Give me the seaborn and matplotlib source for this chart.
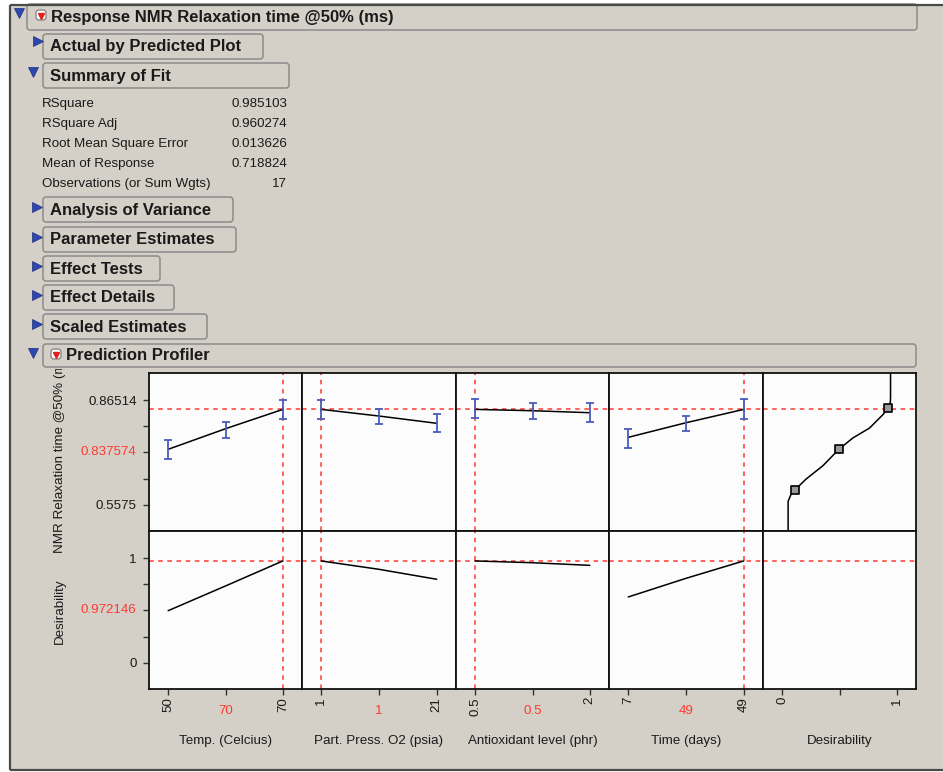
import matplotlib
matplotlib.use("Agg")
import matplotlib.pyplot as plt
from matplotlib.patches import FancyBboxPatch, Rectangle
from matplotlib.transforms import Bbox
import seaborn as sns

W, H = 943, 772

# ---------------------------------------------------------------
# Values
# ---------------------------------------------------------------
report_title = "Response NMR Relaxation time @50% (ms)"
fit_labels = ["RSquare", "RSquare Adj", "Root Mean Square Error",
              "Mean of Response", "Observations (or Sum Wgts)"]
fit_values = ["0.985103", "0.960274", "0.013626", "0.718824", "17"]

closed_sections = ["Analysis of Variance", "Parameter Estimates", "Effect Tests",
                   "Effect Details", "Scaled Estimates"]

factor_names = ["Temp. (Celcius)", "Part. Press. O2 (psia)",
                "Antioxidant level (phr)", "Time (days)"]
factor_levels = [[50, 60, 70], [1, 11, 21], [0.5, 1.25, 2], [7, 28, 49]]
factor_ticklabels = [["50", "", "70"], ["1", "", "21"], ["0.5", "", "2"], ["7", "", "49"]]
factor_current = [70, 1, 0.5, 49]
factor_current_label = ["70", "1", "0.5", "49"]

# predicted NMR relaxation time and its confidence bars at each level
nmr_pred = [[0.7203, 0.7808, 0.8376],
            [0.8376, 0.8181, 0.7967],
            [0.8376, 0.8337, 0.8278],
            [0.7555, 0.7984, 0.8376]]
nmr_lo = [[0.6918, 0.7535, 0.8102],
          [0.8093, 0.7946, 0.7702],
          [0.8113, 0.8102, 0.7996],
          [0.7250, 0.7740, 0.8102]]
nmr_hi = [[0.7476, 0.8005, 0.8651],
          [0.8651, 0.8396, 0.8249],
          [0.8672, 0.8554, 0.8554],
          [0.7799, 0.8181, 0.8672]]
# desirability trace at each level
desir = [[0.497, 0.733, 0.972],
         [0.972, 0.892, 0.797],
         [0.972, 0.955, 0.930],
         [0.628, 0.806, 0.972]]

# desirability function (x = desirability, y = response)
des_d = [0.052, 0.052, 0.076, 0.108, 0.209, 0.355, 0.497, 0.616, 0.762, 0.878,
         0.924, 0.942, 0.945, 0.945]
des_nmr = [0.4802, 0.5675, 0.5869, 0.5998, 0.633, 0.672, 0.7211, 0.7535, 0.7828,
           0.8219, 0.8416, 0.8563, 0.870, 0.9445]
knot_d = [0.108, 0.497, 0.924]
knot_nmr = [0.5998, 0.7211, 0.8416]

nmr_current = 0.837574
desir_current = 0.972146
nmr_ticks = [0.5575, 0.71132, 0.86514]
nmr_ticklabels = ["0.5575", "", "0.86514"]
nmr_minor = [0.63441, 0.78823]
des_ticks = [0, 0.5, 1]
des_ticklabels = ["0", "", "1"]
des_minor = [0.25, 0.75]

GRAY = "#d4d0c8"
RED = "#ff3a30"
BLUE = "#4a5cb8"
TXT = "#1a1a1a"
FS = 9.6

sns.set_style("white")
plt.rcParams["font.family"] = ["Liberation Sans", "DejaVu Sans"]

fig = plt.figure(figsize=(W / 100, H / 100), dpi=100)
fig.patch.set_facecolor("white")

# background canvas in pixel coordinates
bg = fig.add_axes([0, 0, 1, 1])
bg.set_xlim(0, W)
bg.set_ylim(H, 0)
bg.axis("off")
bg.add_patch(Rectangle((10, 5), W - 10, 765, fc=GRAY, ec="none"))
for xs, ys in [([10, W], [5, 5]), ([10, 10], [5, 770]), ([10, W], [770, 770])]:
    bg.plot(xs, ys, color="#4a4a4a", lw=1.6, solid_capstyle="butt")


def outline_box(x0, y0, x1, y1, text, tx, size=12):
    bg.add_patch(FancyBboxPatch((x0, y0), x1 - x0, y1 - y0,
                                boxstyle="round,pad=0,rounding_size=3",
                                fc=GRAY, ec="#8c8c8c", lw=1.1))
    bg.text(tx, (y0 + y1) / 2 + 0.5, text, fontsize=size, fontweight="bold",
            ha="left", va="center", color=TXT)


def disclosure(x, y, opened):
    bg.plot([x], [y], marker="v" if opened else ">", ms=7 if opened else 6.5,
            color="#2c48b0", mec="#1c2f80", mew=0.5)


def menu_icon(x, y):
    bg.add_patch(FancyBboxPatch((x - 5, y - 5), 10, 10,
                                boxstyle="round,pad=0,rounding_size=3",
                                fc="white", ec="#8a8a8a", lw=1))
    bg.plot([x], [y + 0.5], marker="v", ms=4.5, color="#e02020")


# main title bar
outline_box(27, 4, 917, 30, report_title, 51)
disclosure(19, 13, True)
menu_icon(41, 15)

# Actual by Predicted / Summary of Fit
outline_box(43, 34, 263, 59, "Actual by Predicted Plot", 50)
disclosure(38, 41, False)
outline_box(43, 63, 289, 88, "Summary of Fit", 50)
disclosure(33, 72, True)

for i, (lab, val) in enumerate(zip(fit_labels, fit_values)):
    y = 104 + 20 * i
    bg.text(42, y, lab, fontsize=FS, ha="left", va="center", color=TXT)
    bg.text(287, y, val, fontsize=FS, ha="right", va="center", color=TXT)

# collapsed sections
sec_y = [197, 227, 256, 285, 314]
sec_x1 = [233, 236, 160, 174, 207]
for name, y0, x1 in zip(closed_sections, sec_y, sec_x1):
    outline_box(43, y0, x1, y0 + 25, name, 50)
    disclosure(37, y0 + 9.5, False)

# prediction profiler header
outline_box(43, 344, 916, 367, "Prediction Profiler", 66)
disclosure(33, 353, True)
menu_icon(56, 354)

# y labels of the profiler rows
ylab = bg.text(60, 452, "NMR Relaxation time @50% (ms)", rotation=90, fontsize=FS,
               ha="center", va="center", color=TXT, clip_on=True)
ylab.set_clip_box(Bbox.from_extents(30, H - 560, 90, H - 369))
bg.text(60, 611, "Desirability", rotation=90, fontsize=FS, ha="center", va="center", color=TXT)

# ---------------------------------------------------------------
# Profiler panels
# ---------------------------------------------------------------
col_edges = [149, 302, 456, 609, 763, 916]
row_edges = [373, 531, 689]


def panel(c, r):
    x0, x1 = col_edges[c], col_edges[c + 1]
    y0, y1 = row_edges[r], row_edges[r + 1]
    ax = fig.add_axes([x0 / W, 1 - y1 / H, (x1 - x0) / W, (y1 - y0) / H])
    ax.set_facecolor("#fcfcfc")
    for sp in ax.spines.values():
        sp.set_color("#111111")
        sp.set_linewidth(1.3)
        sp.set_visible(True)
    ax.tick_params(which="both", direction="out", length=4.3, width=1,
                   colors="#333333", labelsize=FS, labelcolor=TXT,
                   left=True, bottom=True)
    return ax


def xlim_of(lo, hi):
    r = hi - lo
    return lo - 0.167 * r, hi + 0.167 * r


nmr_lim = (nmr_ticks[0] - 0.251 * (nmr_ticks[2] - nmr_ticks[0]),
           nmr_ticks[2] + 0.258 * (nmr_ticks[2] - nmr_ticks[0]))
des_lim = (-0.251, 1.258)

dash = dict(color=RED, lw=1.1, ls=(0, (3, 3)), zorder=1)

for c in range(5):
    top = panel(c, 0)
    bot = panel(c, 1)
    if c < 4:
        lv = factor_levels[c]
        lim = xlim_of(lv[0], lv[-1])
        pred = nmr_pred[c]
        yerr = [[p - l for p, l in zip(pred, nmr_lo[c])],
                [h - p for p, h in zip(pred, nmr_hi[c])]]
        top.axvline(factor_current[c], **dash)
        bot.axvline(factor_current[c], **dash)
        sns.lineplot(x=lv, y=pred, ax=top, color="black", lw=1.1,
                     estimator=None, sort=False, zorder=3)
        top.errorbar(lv, pred, yerr=yerr, fmt="none", ecolor=BLUE,
                     elinewidth=1.3, capsize=2.6, capthick=1.3, zorder=4)
        sns.lineplot(x=lv, y=desir[c], ax=bot, color="black", lw=1.1,
                     estimator=None, sort=False, zorder=3)
        ticks = lv
        ticklabels = factor_ticklabels[c]
        mid_label = factor_current_label[c]
        bot.set_xlabel(factor_names[c], fontsize=FS, color=TXT)
    else:
        lim = xlim_of(0, 1)
        sns.lineplot(x=des_d, y=des_nmr, ax=top, color="black", lw=1.1,
                     estimator=None, sort=False, zorder=3)
        sns.scatterplot(x=knot_d, y=knot_nmr, ax=top, marker="s", s=30,
                        color="#9a9a9a", edgecolor="black", linewidth=1.2, zorder=4)
        ticks = des_ticks
        ticklabels = des_ticklabels
        mid_label = None
        bot.set_xlabel("Desirability", fontsize=FS, color=TXT)

    top.axhline(nmr_current, **dash)
    bot.axhline(desir_current, **dash)

    for ax in (top, bot):
        ax.set_xlim(*lim)
    top.set_ylim(*nmr_lim)
    bot.set_ylim(*des_lim)

    top.set_xticks([])
    bot.set_xticks(ticks)
    bot.set_xticklabels(ticklabels, rotation=90)
    bot.tick_params(axis="x", pad=1.5, bottom=True)
    bot.xaxis.set_label_coords(0.5, -0.329)
    bot.xaxis.label.set_va("center")
    if mid_label is not None:
        bot.text(ticks[1], -0.138, mid_label, transform=bot.get_xaxis_transform(),
                 ha="center", va="center", color=RED, fontsize=FS)

    if c == 0:
        top.set_yticks(nmr_ticks)
        top.set_yticklabels(nmr_ticklabels)
        top.set_yticks(nmr_minor, minor=True)
        bot.set_yticks(des_ticks)
        bot.set_yticklabels(des_ticklabels)
        bot.set_yticks(des_minor, minor=True)
        for ax in (top, bot):
            ax.tick_params(axis="y", which="both", direction="out", length=4.3,
                           width=1, pad=4.5, colors="#333333", labelcolor=TXT,
                           left=True)
        top.text(-0.085, nmr_ticks[1], f"{nmr_current:g}", transform=top.get_yaxis_transform(),
                 ha="right", va="center", color=RED, fontsize=FS)
        bot.text(-0.085, des_ticks[1], f"{desir_current:g}", transform=bot.get_yaxis_transform(),
                 ha="right", va="center", color=RED, fontsize=FS)
    else:
        top.set_yticks([])
        bot.set_yticks([])
    top.set_xlabel("")
    top.set_ylabel("")
    bot.set_ylabel("")

fig.savefig("out.png", dpi=100)
